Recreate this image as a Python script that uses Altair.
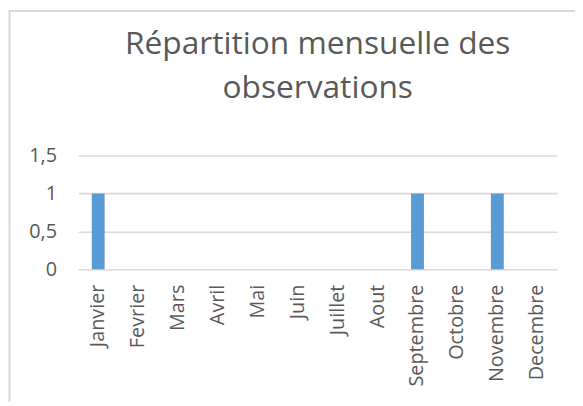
import altair as alt
import pandas as pd

mois = ["Janvier", "Fevrier", "Mars", "Avril", "Mai", "Juin", "Juillet",
        "Aout", "Septembre", "Octobre", "Novembre", "Decembre"]
observations = [1, 0, 0, 0, 0, 0, 0, 0, 1, 0, 1, 0]
y_ticks = [0, 0.5, 1, 1.5]
titre = ["Répartition mensuelle des", "observations"]

df = pd.DataFrame({"mois": mois, "n": observations})

FONT = "Open Sans"
GREY = "#595959"

bars = alt.Chart(df).mark_bar(size=13, color="#5B9BD5").encode(
    x=alt.X(
        "mois:N", sort=mois, title=None,
        scale=alt.Scale(paddingInner=0, paddingOuter=0),
        axis=alt.Axis(labelAngle=-90, labelAlign="right", labelBaseline="middle",
                      labelPadding=15, ticks=False, domain=False, grid=False,
                      labelFontSize=20, labelColor=GREY, labelFont=FONT,
                      labelOverlap=False),
    ),
    y=alt.Y(
        "n:Q", title=None,
        scale=alt.Scale(domain=[0, 1.5], nice=False),
        axis=alt.Axis(values=y_ticks,
                      labelExpr="replace(format(datum.value, '.1~f'), '.', ',')",
                      ticks=False, domain=False, grid=True, gridColor="#d9d9d9",
                      gridWidth=1.6, labelPadding=22, labelFontSize=20,
                      labelColor=GREY, labelFont=FONT),
    ),
)

frame_df = pd.DataFrame({"k": [0]})
left_border = alt.Chart(frame_df).mark_rule(color="#d9d9d9", strokeWidth=2).encode(
    x=alt.value(-69.5), y=alt.value(-146), y2=alt.value(300)
)
top_border = alt.Chart(frame_df).mark_rule(color="#d9d9d9", strokeWidth=2).encode(
    x=alt.value(-70.5), x2=alt.value(520), y=alt.value(-146)
)

chart = alt.layer(bars, left_border, top_border).properties(
    width=484, height=115,
    title=alt.Title(titre, fontSize=32, font=FONT, fontWeight="normal", color=GREY,
                    lineHeight=45, anchor="middle", baseline="bottom", offset=0,
                    dy=128, frame="group"),
    autosize=alt.AutoSizeParams(type="none"),
    padding={"left": 71, "top": 147, "right": 18, "bottom": 132},
    background="white",
).configure_view(stroke=None)

chart.save("out.html", embed_options={"renderer": "svg", "actions": False})
